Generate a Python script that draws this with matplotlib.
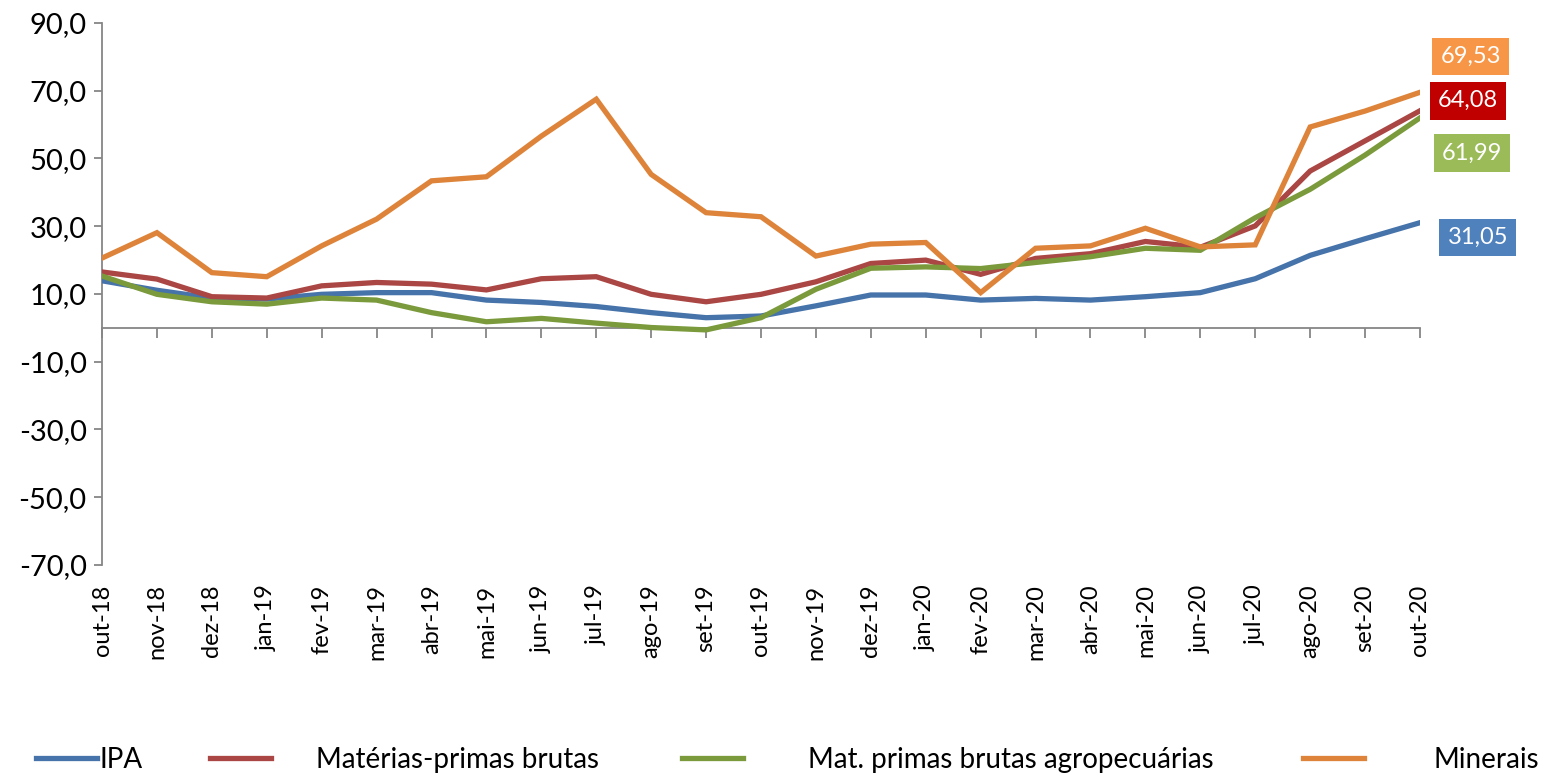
import numpy as np
from matplotlib import pyplot as plt

plt.rcParams['font.family'] = ['Lato', 'DejaVu Sans']

months = ['out-18', 'nov-18', 'dez-18', 'jan-19', 'fev-19', 'mar-19', 'abr-19',
          'mai-19', 'jun-19', 'jul-19', 'ago-19', 'set-19', 'out-19', 'nov-19',
          'dez-19', 'jan-20', 'fev-20', 'mar-20', 'abr-20', 'mai-20', 'jun-20',
          'jul-20', 'ago-20', 'set-20', 'out-20']

ipa = [13.9, 11.1, 8.8, 8.5, 9.9, 10.4, 10.4, 8.2, 7.5, 6.3, 4.5, 3.0, 3.5,
       6.5, 9.7, 9.7, 8.2, 8.7, 8.2, 9.2, 10.4, 14.5, 21.4, 26.3, 31.05]
mp_brutas = [16.5, 14.4, 9.2, 8.8, 12.4, 13.4, 12.9, 11.2, 14.5, 15.1, 9.9, 7.7, 9.9,
             13.6, 19.0, 20.0, 15.8, 20.5, 21.9, 25.5, 23.8, 30.1, 46.3, 55.2, 64.08]
mp_agro = [15.3, 9.9, 7.7, 7.0, 8.8, 8.2, 4.5, 1.8, 2.8, 1.4, 0.1, -0.6, 3.0,
           11.4, 17.6, 18.0, 17.5, 19.3, 21.0, 23.5, 22.9, 32.5, 40.9, 51.0, 61.99]
minerais = [20.6, 28.1, 16.3, 15.1, 24.2, 32.1, 43.4, 44.6, 56.6, 67.5, 45.3, 34.0, 32.8,
            21.2, 24.7, 25.2, 10.4, 23.5, 24.2, 29.4, 23.9, 24.5, 59.3, 64.0, 69.53]

series = [
    ('IPA', ipa, '#4573AA', '#4F81BD', (58, -15)),
    ('Matérias-primas brutas', mp_brutas, '#AA4643', '#C00000', (48, 10)),
    ('Mat. primas brutas agropecuárias', mp_agro, '#7A9A3C', '#9BBB59', (52, -35)),
    ('Minerais', minerais, '#DD843A', '#F79646', (51, 36)),
]

fig = plt.figure(figsize=(15.48, 7.76), dpi=100)
ax = fig.add_axes([0.0659, 0.2719, 0.9173 - 0.0659, 0.9704 - 0.2719])

x = np.arange(len(months))
lines = []
for name, vals, color, box_color, off in series:
    ln, = ax.plot(x, vals, color=color, lw=3.8, solid_joinstyle='miter', label=name)
    lines.append(ln)
    ax.annotate(f'{vals[-1]:.2f}'.replace('.', ','), xy=(x[-1], vals[-1]),
                xytext=off, textcoords='offset pixels', ha='center', va='center',
                fontsize=17, color='white',
                bbox=dict(boxstyle='square,pad=0.35', fc=box_color, ec='none'))

ax.set_xlim(0, len(months) - 1)
ax.set_ylim(-70, 90)
ax.set_yticks(np.arange(-70, 91, 20))
ax.set_yticklabels([f'{v:.1f}'.replace('.', ',') for v in np.arange(-70, 91, 20)])
ax.set_xticks(x)
ax.set_xticklabels(months, rotation=90)

for s in ['top', 'right', 'bottom']:
    ax.spines[s].set_visible(False)
ax.spines['left'].set_color('#868686')
ax.spines['left'].set_linewidth(1.3)
ax.tick_params(axis='y', labelsize=21, color='#868686', length=6, width=1.3, pad=5)
ax.tick_params(axis='x', labelsize=17, length=0, pad=14)

# zero line with category tick marks
zero = ax.secondary_xaxis(70 / 160)
zero.set_xticks(x)
zero.set_xticklabels([])
zero.spines['bottom'].set_color('#868686')
zero.spines['bottom'].set_linewidth(1.3)
zero.tick_params(axis='x', direction='out', length=7, width=1.3, color='#868686')
for ln in lines:
    ln.set_zorder(3)

# legend entries spread along the bottom
legend_x = [0.0233, 0.1357, 0.4406, 0.8417]
legend_pad = [0.1, 1.6, 2.35, 2.5]
for ln, lx, pad in zip(lines, legend_x, legend_pad):
    fig.legend(handles=[ln], loc='center left', bbox_to_anchor=(lx, 0.021),
               frameon=False, fontsize=20, handlelength=2.2, handletextpad=pad,
               borderaxespad=0, borderpad=0)

fig.savefig('out.png', dpi=100)
